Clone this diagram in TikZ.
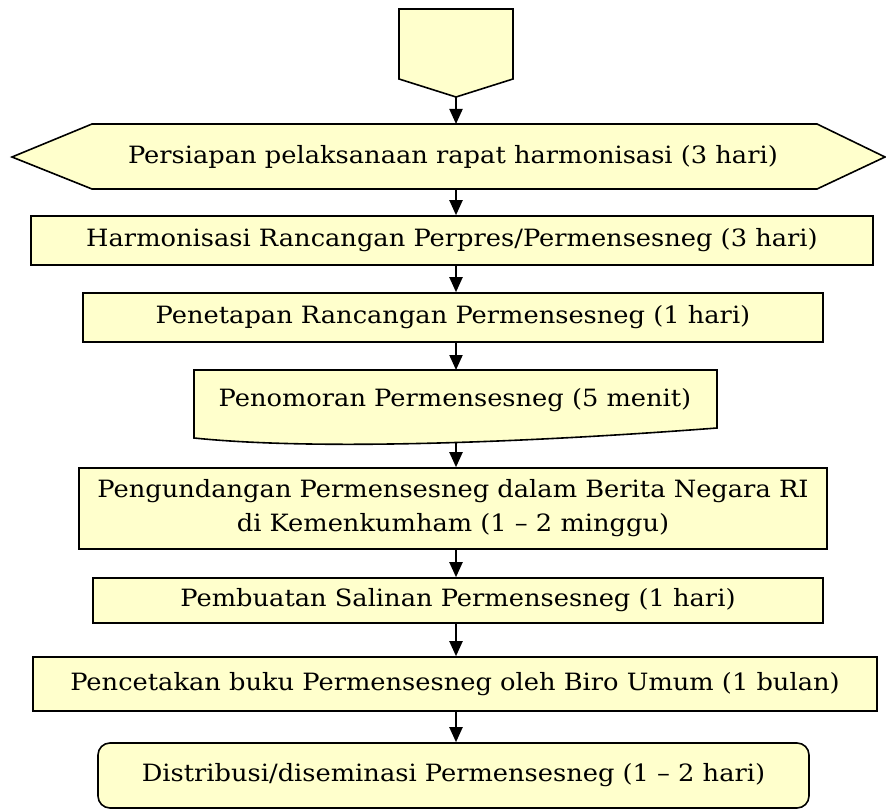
\documentclass[tikz,border=0pt]{standalone}
\usepackage{fontspec}
\setmainfont{DejaVu Serif}[FakeStretch=1.08]
\usetikzlibrary{arrows.meta}
\definecolor{boxfill}{RGB}{255,255,204}
\tikzset{
  shp/.style={draw=black, fill=boxfill, line width=1.6pt, line join=miter},
  box/.style={shp, inner sep=0pt, align=center, font=\fontsize{23.8}{34}\selectfont},
  txt/.style={inner sep=0pt, align=center, font=\fontsize{23.8}{34}\selectfont},
  arr/.style={line width=2pt, -{Triangle[length=15pt,width=13pt]}},
}
\begin{document}
\begin{tikzpicture}[x=1pt,y=-1pt]
\useasboundingbox (0,0) rectangle (886,810);
% off-page connector
\draw[shp] (399,9) -- (513,9) -- (513,79) -- (456,97) -- (399,79) -- cycle;
\coordinate (conn) at (456,97);
% hexagon
\draw[shp] (12,157) -- (92,124) -- (817,124) -- (885,157) -- (817,189) -- (92,189) -- cycle;
\node[txt] (hex) at (453,157) {Persiapan pelaksanaan rapat harmonisasi (3 hari)};
\coordinate (hexT) at (456,124);
\coordinate (hexB) at (456,189);
% rectangles
\node[box, minimum width=842pt, minimum height=49pt] (b2) at (452,240.5) {Harmonisasi Rancangan Perpres/Permensesneg (3 hari)};
\node[box, minimum width=740pt, minimum height=49pt] (b3) at (453,317.5) {Penetapan Rancangan Permensesneg (1 hari)};
% document shape
\draw[shp] (194,370) -- (717,370) -- (717,428) .. controls (560,440) and (330,452) .. (194,438) -- cycle;
\node[txt] (doc) at (455,400) {Penomoran Permensesneg (5 menit)};
\coordinate (docT) at (456,370);
\coordinate (docB) at (456,442.5);
\node[box, minimum width=748pt, minimum height=81pt] (b5) at (453,508.5) {Pengundangan Permensesneg dalam Berita Negara RI\\di Kemenkumham (1 -- 2 minggu)};
\node[box, minimum width=730pt, minimum height=45pt] (b6) at (458,600.5) {Pembuatan Salinan Permensesneg (1 hari)};
\node[box, minimum width=844pt, minimum height=54pt] (b7) at (455,684) {Pencetakan buku Permensesneg oleh Biro Umum (1 bulan)};
\node[box, rounded corners=12pt, minimum width=711pt, minimum height=65pt] (b8) at (453.5,775.5) {Distribusi/diseminasi Permensesneg (1 -- 2 hari)};
% connectors
\draw[arr] (conn) -- (hexT);
\draw[arr] (hexB) -- (b2.north -| conn);
\draw[arr] (b2.south -| conn) -- (b3.north -| conn);
\draw[arr] (b3.south -| conn) -- (docT);
\draw[arr] (docB) -- (b5.north -| conn);
\draw[arr] (b5.south -| conn) -- (b6.north -| conn);
\draw[arr] (b6.south -| conn) -- (b7.north -| conn);
\draw[arr] (b7.south -| conn) -- (b8.north -| conn);
\end{tikzpicture}
\end{document}
